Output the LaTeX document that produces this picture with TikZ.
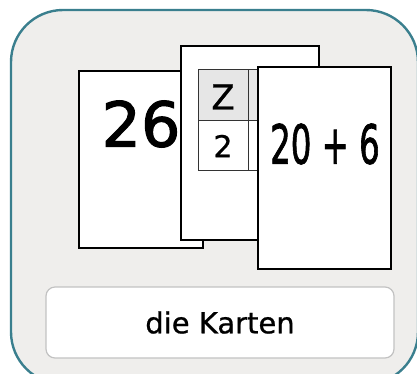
\documentclass[tikz,border=0pt]{standalone}
\usepackage{fontspec}
\setmainfont{DejaVu Sans}
\newfontfamily\thickfont[FakeBold=1.8]{DejaVu Sans}
\newfontfamily\midfont[FakeBold=0.8]{DejaVu Sans}
\definecolor{frameteal}{HTML}{3A7F8E}
\definecolor{panelbg}{HTML}{EFEEEC}
\definecolor{headgray}{HTML}{E6E6E6}
\definecolor{labelborder}{HTML}{C2C2C2}
\tikzset{
  card/.style={draw=black, line width=1.4pt, fill=white},
  cell/.style={draw=black!80, line width=0.8pt},
}
\begin{document}
\begin{tikzpicture}[x=1pt,y=-1pt]
\useasboundingbox (0,0) rectangle (417,373);
\begin{scope}
\clip (0,0) rectangle (417,373);
\draw[frameteal, line width=2.4pt, fill=panelbg, rounded corners=52pt] (11,10) rectangle (418,384);
\end{scope}
% card 1
\draw[card] (79,71) rectangle (203,248);
\node (n26) at (141,124) {\thickfont\fontsize{62}{62}\selectfont 26};
% card 2
\draw[card] (181,46) rectangle (319,240);
\fill[headgray] (198,69) rectangle (262,120);
\draw[cell] (198,69) rectangle (262,170);
\draw[cell] (198,120) -- (262,120);
\draw[cell] (248,69) -- (248,170);
\node (nZ) at (223,97) {\midfont\fontsize{34}{34}\selectfont Z};
\node (n2) at (223,146) {\midfont\fontsize{30}{30}\selectfont 2};
% card 3
\draw[card] (258,67) rectangle (391,269);
\node (n206) at (325,144) {\thickfont\fontsize{54}{54}\selectfont\scalebox{0.6}[1]{20 + 6}};
% label
\node[draw=labelborder, line width=1.2pt, fill=white, rounded corners=9pt, minimum width=348pt, minimum height=71pt, inner sep=0pt] (lab) at (220,322.5) {\midfont\fontsize{29}{29}\selectfont die Karten};
\end{tikzpicture}
\end{document}
